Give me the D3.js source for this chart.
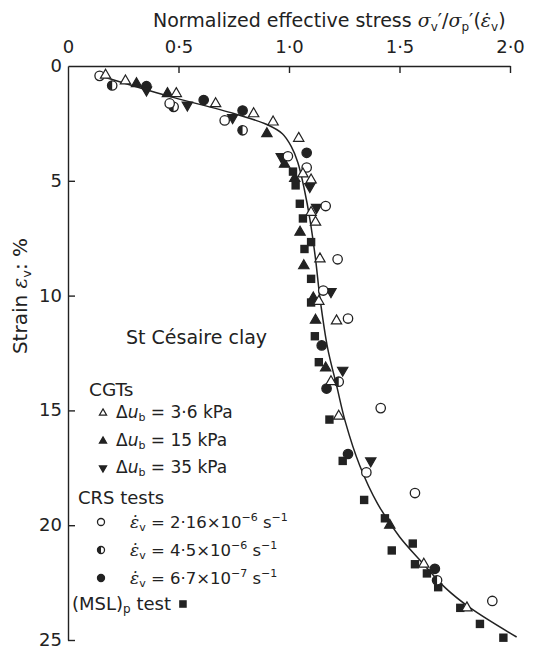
<!DOCTYPE html>
<html><head><meta charset="utf-8">
<script src="https://cdn.jsdelivr.net/npm/d3@7"></script>
<style>
body{margin:0;background:#fff}
text{font-family:"DejaVu Sans",Verdana,sans-serif;fill:#222}
</style>
</head><body><svg id="c" width="555" height="650"></svg>
<script>
// ---- axis ticks ----
const xTickValues = [0, 0.5, 1.0, 1.5, 2.0];
const xTickLabels = ["0", "0·5", "1·0", "1·5", "2·0"];
const yTickValues = [0, 5, 10, 15, 20, 25];
const yTickLabels = ["0", "5", "10", "15", "20", "25"];

// ---- data: [normalized stress, strain %] ----
const cgt36 = [[0.17,0.40],[0.26,0.65],[0.49,1.2],[0.668,1.64],[0.84,2.08],[0.928,2.44],[1.044,3.15],[1.063,4.7],[1.10,4.96],[1.10,6.38],[1.12,6.8],[1.14,8.4],[1.135,10.25],[1.215,11.1],[1.19,13.75],[1.225,15.25],[1.61,21.7],[1.805,23.6]];
const cgt15 = [[0.31,0.77],[0.45,1.2],[0.90,2.95],[0.98,4.28],[1.026,4.9],[1.05,7.24],[1.067,8.7],[1.11,10.1],[1.12,11.07],[1.166,13.15],[1.456,20.0]];
const cgt35 = [[0.355,1.05],[0.54,1.7],[0.745,2.25],[0.965,3.95],[1.094,5.25],[1.125,6.16],[1.19,9.83],[1.243,13.25],[1.37,17.2]];
const crsA = [[0.143,0.43],[0.46,1.63],[0.709,2.37],[0.995,3.93],[1.08,4.42],[1.166,6.1],[1.22,8.42],[1.155,9.78],[1.267,11.0],[1.415,14.9],[1.35,17.7],[1.57,18.6],[1.92,23.3]];
const crsB = [[0.2,0.85],[0.478,1.78],[0.79,2.8],[1.225,13.75],[1.67,22.4]];
const crsC = [[0.355,0.88],[0.614,1.48],[0.79,1.94],[1.08,3.78],[1.148,12.17],[1.17,14.05],[1.267,16.9],[1.66,21.9]];
const mslTest = [[1.018,4.6],[1.03,5.2],[1.049,6.0],[1.063,6.64],[1.10,7.67],[1.07,7.97],[1.10,9.27],[1.10,10.3],[1.117,11.77],[1.135,12.9],[1.183,15.4],[1.243,17.2],[1.34,18.9],[1.434,19.7],[1.56,20.8],[1.465,21.1],[1.57,21.7],[1.624,22.1],[1.675,22.7],[1.775,23.6],[1.864,24.3],[1.97,24.9]];

// ---- fitted curve ----
const curveX = [0.17,0.45,0.75,0.9,0.97,1.01,1.04,1.07,1.095,1.12,1.14,1.175,1.215,1.255,1.32,1.40,1.50,1.60,1.71,1.82,2.03];
const curveY = [0.5,1.3,2.07,2.55,2.95,3.5,4.2,5.4,6.7,8.4,10.1,12.3,13.9,15.5,17.4,19.05,20.5,21.6,22.75,23.6,24.87];

const ink = "#222";
const svg = d3.select("#c");
const x = d3.scaleLinear().domain([0, 2]).range([68, 510]);
const y = d3.scaleLinear().domain([0, 25]).range([66, 640]);

// axes
const gx = svg.append("g").attr("transform", `translate(0,${y(0)})`)
  .call(d3.axisTop(x).tickValues(xTickValues).tickFormat((d,i)=>xTickLabels[i]).tickSizeInner(-7).tickSizeOuter(0).tickPadding(13));
const gy = svg.append("g").attr("transform", `translate(${x(0)},0)`)
  .call(d3.axisLeft(y).tickValues(yTickValues).tickFormat((d,i)=>yTickLabels[i]).tickSizeInner(-7).tickSizeOuter(0).tickPadding(6));
[gx, gy].forEach(g => {
  g.select(".domain").attr("stroke", ink).attr("stroke-width", 1.4);
  g.selectAll(".tick line").attr("stroke", ink).attr("stroke-width", 1.4);
  g.selectAll(".tick text").attr("font-size", 18).attr("fill", ink).attr("font-family", "DejaVu Sans, Verdana, sans-serif");
});
gy.selectAll(".tick text").attr("dy", "0.3em");
gy.selectAll(".tick").filter(d => d === 0).select("line").remove();
gx.selectAll(".tick").filter(d => d === 0).select("line").remove();

// helpers for math-like text
function greek(t, g, size) {
  t.append("tspan").attr("font-family", "DejaVu Serif, serif").attr("font-style", "italic").attr("font-size", size).text(g);
}
function sub(t, s, size, d) {
  t.append("tspan").attr("font-size", size).attr("dy", d).text(s);
}

// title
const title = svg.append("text").attr("x", 153).attr("y", 27).attr("font-size", 19);
title.append("tspan").text("Normalized effective stress ");
greek(title, "σ", 19); sub(title, "v", 12, 4); title.append("tspan").attr("dy", -4).text("′/");
greek(title, "σ", 19); sub(title, "p", 12, 4); title.append("tspan").attr("dy", -4).text("′(");
greek(title, "ε̇", 19); sub(title, "v", 12, 4); title.append("tspan").attr("dy", -4).text(")");

// y label
const yl = svg.append("text").attr("transform", "translate(27,296) rotate(-90)").attr("text-anchor", "middle").attr("font-size", 20);
yl.append("tspan").text("Strain ");
greek(yl, "ε", 20); sub(yl, "v", 13, 4);
yl.append("tspan").attr("dy", -4).text(": %");

// curve
const line = d3.line().x(d => x(d[0])).y(d => y(d[1])).curve(d3.curveCatmullRom.alpha(0.5));
svg.append("path").datum(curveX.map((v,i)=>[v, curveY[i]])).attr("d", line)
  .attr("fill", "none").attr("stroke", ink).attr("stroke-width", 1.5);

// markers
const triUp = d3.symbol().type(d3.symbolTriangle);
function drawMarker(g, kind, cx, cy, s) {
  s = s || 1;
  if (kind === "triOpen" || kind === "triUp" || kind === "triDown") {
    g.append("path").attr("d", triUp.size(46 * s * s)())
      .attr("transform", `translate(${cx},${cy})` + (kind === "triDown" ? " rotate(180)" : ""))
      .attr("fill", kind === "triOpen" ? "#fff" : ink).attr("stroke", ink).attr("stroke-width", 1.2);
  } else if (kind === "square") {
    const a = 8.4 * s;
    g.append("rect").attr("x", cx - a/2).attr("y", cy - a/2).attr("width", a).attr("height", a).attr("fill", ink);
  } else if (kind === "circOpen" || kind === "circFill") {
    g.append("circle").attr("cx", cx).attr("cy", cy).attr("r", 4.7 * s)
      .attr("fill", kind === "circOpen" ? "#fff" : ink).attr("stroke", ink).attr("stroke-width", 1.3);
  } else if (kind === "circHalf") {
    const r = 4.7 * s;
    g.append("circle").attr("cx", cx).attr("cy", cy).attr("r", r).attr("fill", "#fff").attr("stroke", ink).attr("stroke-width", 1.3);
    g.append("path").attr("d", `M${cx},${cy - r} A${r},${r} 0 0 0 ${cx},${cy + r} Z`).attr("fill", ink);
  }
}
const seriesList = [
  [mslTest, "square"], [crsC, "circFill"], [cgt15, "triUp"], [cgt35, "triDown"],
  [crsB, "circHalf"], [crsA, "circOpen"], [cgt36, "triOpen"]
];
const gm = svg.append("g");
seriesList.forEach(([data, kind]) => data.forEach(d => drawMarker(gm, kind, x(d[0]), y(d[1]))));

// legend
const lg = svg.append("g");
lg.append("text").attr("x", 126).attr("y", 344).attr("font-size", 19).text("St Césaire clay");
lg.append("text").attr("x", 89).attr("y", 396).attr("font-size", 18.5).text("CGTs");
lg.append("text").attr("x", 78).attr("y", 504).attr("font-size", 18).text("CRS tests");

const cgtRows = [["triOpen", "3·6", 418], ["triUp", "15", 446], ["triDown", "35", 473]];
cgtRows.forEach(([kind, val, yy]) => {
  drawMarker(lg, kind, 103, yy - 5, 0.7);
  const t = lg.append("text").attr("x", 116).attr("y", yy).attr("font-size", 17);
  t.append("tspan").text("Δ");
  t.append("tspan").attr("font-style", "italic").text("u");
  sub(t, "b", 11, 3);
  t.append("tspan").attr("dy", -3).text(" = " + val + " kPa");
});
const crsRows = [["circOpen", "2·16", "−6", 528], ["circHalf", "4·5", "−6", 556], ["circFill", "6·7", "−7", 584]];
crsRows.forEach(([kind, val, ex, yy]) => {
  drawMarker(lg, kind, 101, yy - 6, 0.75);
  const t = lg.append("text").attr("x", 130).attr("y", yy).attr("font-size", 16.5);
  greek(t, "ε̇", 17);
  sub(t, "v", 11, 3);
  t.append("tspan").attr("dy", -3).text(" = " + val + "×10");
  sub(t, ex, 11, -7);
  t.append("tspan").attr("dy", 7).text(" s");
  sub(t, "−1", 11, -7);
});
const ms = lg.append("text").attr("x", 72).attr("y", 610).attr("font-size", 18);
ms.append("tspan").text("(MSL)");
sub(ms, "p", 12, 3);
ms.append("tspan").attr("dy", -3).text(" test");
const msEnd = 72 + ms.node().getComputedTextLength();
drawMarker(lg, "square", msEnd + 12, 604, 0.9);
</script>
</body></html>
